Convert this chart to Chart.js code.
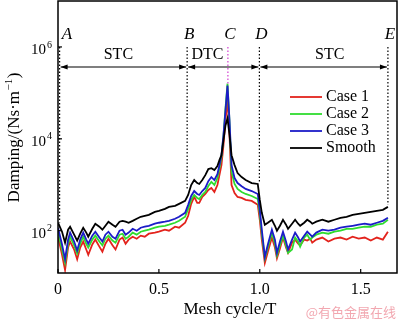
<!DOCTYPE html>
<html>
<head>
<meta charset="utf-8">
<script src="https://cdn.jsdelivr.net/npm/chart.js@4.4.1/dist/chart.umd.min.js"></script>
<style>
  html, body { margin: 0; padding: 0; background: #fff; }
</style>
</head>
<body>
<canvas id="dampingChart" width="400" height="321"></canvas>
<script>
"use strict"

// data (damping in Ns/m, log scale)
// -----------------
const meshCycle = [
  0, 0.02, 0.035, 0.05, 0.06, 0.08, 0.095, 0.11, 0.125, 0.14,
  0.15, 0.17, 0.185, 0.205, 0.22, 0.235, 0.25, 0.27, 0.285,
  0.305, 0.32, 0.335, 0.35, 0.37, 0.39, 0.41, 0.43, 0.45,
  0.48, 0.5, 0.53, 0.55, 0.58, 0.6, 0.63,
  0.645, 0.66, 0.675, 0.69, 0.70, 0.715, 0.73, 0.745, 0.76, 0.775, 0.79,
  0.80, 0.81, 0.82, 0.83, 0.84, 0.85, 0.86,
  0.875, 0.89, 0.91, 0.93, 0.96, 0.99,
  1.0, 1.01, 1.025, 1.04, 1.06, 1.075, 1.085, 1.1, 1.115, 1.13, 1.14,
  1.16, 1.175, 1.19, 1.2, 1.22, 1.235, 1.25, 1.26, 1.28,
  1.31, 1.34, 1.37, 1.4, 1.43, 1.46, 1.49, 1.52, 1.55, 1.58, 1.61, 1.635
];

const case1 = [
  74, 30, 14, 43, 58, 39, 24, 43, 58, 39,
  30, 50, 64, 45, 35, 52, 67, 48, 39,
  64, 71, 52, 64, 74, 67, 78, 74, 86,
  91, 95, 105, 100, 122, 116, 149,
  211, 384, 543, 403, 403, 543, 630, 770, 851, 697, 988,
  1620, 2680, 7300, 25000, 75000, 12000, 988,
  663, 543, 517, 468, 445, 365,
  173, 64, 20, 35, 71, 43, 25, 41, 71, 43, 33,
  55, 64, 52, 48, 64, 61, 67, 55, 64,
  71, 58, 67, 71, 64, 74, 67, 71, 61, 71, 64, 95
];

const case2 = [
  95, 39, 20, 52, 74, 48, 32, 52, 74, 52,
  43, 64, 78, 58, 48, 67, 78, 61, 55,
  82, 86, 67, 74, 91, 82, 95, 100, 105,
  116, 122, 128, 135, 149, 164, 201,
  298, 468, 600, 517, 490, 600, 697, 940, 1150, 988, 1400,
  2300, 3981, 11500, 46000, 158500, 23000, 1900,
  1040, 810, 697, 630, 570, 490,
  233, 86, 25, 43, 91, 52, 29, 48, 78, 48, 33,
  39, 71, 58, 45, 71, 82, 64, 71, 82,
  91, 86, 95, 100, 110, 110, 116, 122, 122, 135, 142, 173
];

const case3 = [
  116, 50, 24, 64, 91, 58, 37, 64, 91, 64,
  52, 78, 95, 71, 58, 82, 95, 74, 67,
  100, 105, 82, 91, 110, 100, 116, 122, 128,
  142, 149, 157, 164, 182, 201, 245,
  365, 570, 730, 630, 600, 730, 851, 1200, 1471, 1267, 1700,
  2680, 4400, 12000, 41000, 143500, 25000, 2680,
  1400, 1091, 930, 810, 730, 630,
  284, 105, 27, 50, 105, 64, 33, 58, 95, 58, 39,
  64, 91, 71, 58, 78, 95, 82, 74, 91,
  105, 100, 105, 116, 122, 128, 135, 142, 135, 149, 164, 191
];

const smooth = [
  149, 95, 55, 105, 122, 82, 61, 86, 116, 91,
  74, 110, 142, 122, 105, 128, 157, 135, 122,
  157, 164, 157, 149, 164, 182, 201, 211, 222,
  257, 271, 298, 330, 347, 384, 445,
  600, 988, 1267, 1091, 1040, 1267, 1620, 2200, 2300, 2084, 2540,
  3427, 4400, 9300, 19500, 27730, 12000, 4400,
  2680, 1795, 1471, 1267, 1091, 1040,
  468, 245, 135, 149, 173, 128, 100, 128, 173, 135, 110,
  142, 173, 142, 128, 149, 173, 157, 142, 157,
  173, 157, 173, 191, 201, 222, 233, 245, 257, 271, 284, 330
];

const seriesNames = ['Case 1', 'Case 2', 'Case 3', 'Smooth'];
const seriesColors = ['#e3231c', '#2fdc2f', '#1c1cc8', '#000000'];

const xTicks = [0, 0.5, 1.0, 1.5];
const yTicks = [1e2, 1e4, 1e6];
const yTickExp = ['2', '4', '6'];

// stage boundaries A..E and where their dotted lines stop
const markNames = ['A', 'B', 'C', 'D', 'E'];
const markX = [0.008, 0.64, 0.842, 0.998, 1.635];
const markBottom = [150, 770, 158500, 1090, 365];
const zoneLabels = ['STC', 'DTC', 'STC'];
// -----------------

const serif = '"Liberation Serif", "Times New Roman", serif';

const datasets = [case1, case2, case3, smooth].map(function(vals, i) {
    return {
        label: seriesNames[i],
        data: vals.map(function(v, j) { return { x: meshCycle[j], y: v }; }),
        borderColor: seriesColors[i],
        backgroundColor: seriesColors[i],
        borderWidth: 1.8,
        pointRadius: 0,
        tension: 0,
        order: 4 - i   // smooth curve ends up on top
    };
});

function arrowHead(ctx, x, y, dir) {
    ctx.beginPath();
    ctx.moveTo(x, y);
    ctx.lineTo(x - dir * 7, y - 2.5);
    ctx.lineTo(x - dir * 7, y + 2.5);
    ctx.closePath();
    ctx.fill();
}

const decorations = {
    id: 'decorations',
    afterDraw: function(chart) {
        const ctx = chart.ctx;
        const a = chart.chartArea;
        const xs = chart.scales.x;
        const ys = chart.scales.y;
        ctx.save();
        ctx.fillStyle = '#000';
        ctx.strokeStyle = '#000';

        // frame
        ctx.lineWidth = 1.5;
        ctx.strokeRect(a.left, a.top, a.right - a.left, a.bottom - a.top);

        // inward ticks
        ctx.lineWidth = 1.2;
        xTicks.forEach(function(v) {
            const px = xs.getPixelForValue(v);
            ctx.beginPath(); ctx.moveTo(px, a.bottom); ctx.lineTo(px, a.bottom - 4); ctx.stroke();
        });
        yTicks.forEach(function(v, i) {
            const py = ys.getPixelForValue(v);
            ctx.beginPath(); ctx.moveTo(a.left, py); ctx.lineTo(a.left + 4, py); ctx.stroke();
            ctx.textBaseline = 'middle';
            ctx.textAlign = 'right';
            ctx.font = '15px ' + serif;
            ctx.fillText('10', a.left - 12, py + 3);
            ctx.textAlign = 'left';
            ctx.font = '10px ' + serif;
            ctx.fillText(yTickExp[i], a.left - 11, py - 2);
        });

        // y axis title, rotated
        ctx.save();
        ctx.translate(15, 138);
        ctx.rotate(-Math.PI / 2);
        ctx.textBaseline = 'middle';
        ctx.textAlign = 'left';
        ctx.font = '17px ' + serif;
        const main = 'Damping/(Ns\u00b7m';
        const w1 = ctx.measureText(main).width;
        ctx.font = '11px ' + serif;
        const w2 = ctx.measureText('\u22121').width;
        ctx.font = '17px ' + serif;
        const w3 = ctx.measureText(')').width;
        let x0 = -(w1 + w2 + w3) / 2;
        ctx.fillText(main, x0, 0);
        ctx.font = '11px ' + serif;
        ctx.fillText('\u22121', x0 + w1 + 0.5, -6);
        ctx.font = '17px ' + serif;
        ctx.fillText(')', x0 + w1 + w2 + 1, 0);
        ctx.restore();

        // x axis title
        ctx.textAlign = 'center';
        ctx.textBaseline = 'middle';
        ctx.font = '17px ' + serif;
        ctx.fillText('Mesh cycle/T', 230, 310);

        // stage lines
        const topPx = ys.getPixelForValue(1e6);
        const markPx = markX.map(function(v) { return xs.getPixelForValue(v); });
        ctx.lineWidth = 1.2;
        ctx.setLineDash([1.5, 2]);
        markPx.forEach(function(px, i) {
            ctx.strokeStyle = markNames[i] === 'C' ? '#d23cd2' : '#000';
            ctx.beginPath();
            ctx.moveTo(px, topPx);
            ctx.lineTo(px, ys.getPixelForValue(markBottom[i]));
            ctx.stroke();
        });
        ctx.setLineDash([]);
        ctx.strokeStyle = '#000';

        // stage letters
        ctx.font = 'italic 17px ' + serif;
        markPx.forEach(function(px, i) {
            const cx = Math.max(px + 2, a.left + 9);
            ctx.fillText(markNames[i], cx, topPx - 12);
        });

        // arrows between A-B, B-D, D-E
        const arrowY = topPx + 20;
        const spans = [[markPx[0], markPx[1]], [markPx[1], markPx[3]], [markPx[3], markPx[4]]];
        ctx.lineWidth = 1.1;
        spans.forEach(function(s) {
            ctx.beginPath(); ctx.moveTo(s[0] + 1, arrowY); ctx.lineTo(s[1] - 1, arrowY); ctx.stroke();
            arrowHead(ctx, s[0] + 1, arrowY, -1);
            arrowHead(ctx, s[1] - 1, arrowY, 1);
        });
        ctx.font = '16px ' + serif;
        ctx.fillText(zoneLabels[0], (markPx[0] + markPx[1]) / 2 - 5, topPx + 8);
        ctx.fillText(zoneLabels[1], (markPx[1] + markPx[2]) / 2, topPx + 8);
        ctx.fillText(zoneLabels[2], (markPx[3] + markPx[4]) / 2 + 6, topPx + 8);

        // legend
        ctx.textAlign = 'left';
        ctx.font = '16px ' + serif;
        seriesNames.forEach(function(name, i) {
            const ly = 97 + i * 17;
            ctx.strokeStyle = seriesColors[i];
            ctx.lineWidth = 1.8;
            ctx.beginPath(); ctx.moveTo(290, ly); ctx.lineTo(322, ly); ctx.stroke();
            ctx.fillStyle = '#000';
            ctx.fillText(name, 326, ly);
        });

        // watermark
        ctx.fillStyle = '#f2a7b0';
        ctx.font = '13px "Noto Sans CJK SC", sans-serif';
        ctx.textAlign = 'right';
        ctx.fillText('@有色金属在线', 396, 312);
        ctx.restore();
    }
};

new Chart(document.getElementById('dampingChart'), {
    type: 'line',
    data: { datasets: datasets },
    options: {
        responsive: false,
        animation: false,
        devicePixelRatio: 1,
        layout: { padding: { left: 0, right: 3, top: 1, bottom: 0 } },
        plugins: {
            legend: { display: false },
            tooltip: { enabled: false }
        },
        scales: {
            x: {
                type: 'linear',
                min: 0,
                max: 1.68,
                afterBuildTicks: function(scale) {
                    scale.ticks = xTicks.map(function(v) { return { value: v }; });
                },
                afterFit: function(scale) { scale.height = 48; },
                ticks: {
                    padding: 7,
                    maxRotation: 0,
                    color: '#000',
                    font: { family: serif, size: 16 },
                    callback: function(v) { return v === 0 ? '0' : v.toFixed(1); }
                },
                grid: { display: false, drawTicks: false },
                border: { display: false }
            },
            y: {
                type: 'logarithmic',
                min: 12,
                max: 1e7,
                afterFit: function(scale) { scale.width = 58; },
                ticks: { display: false },
                grid: { display: false, drawTicks: false },
                border: { display: false }
            }
        }
    },
    plugins: [decorations]
});
</script>
</body>
</html>
